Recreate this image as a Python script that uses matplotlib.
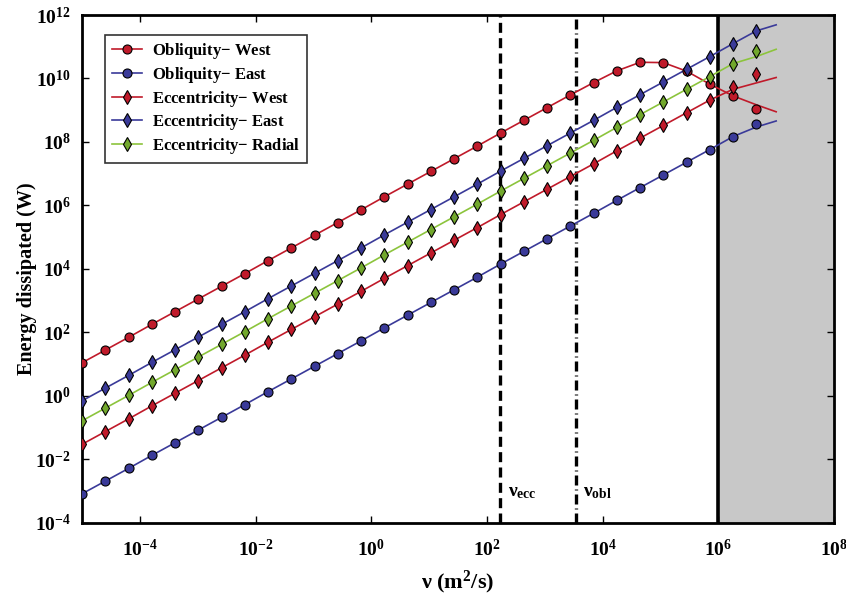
import numpy as np
import matplotlib
matplotlib.use('Agg')
import matplotlib.pyplot as plt
from matplotlib.ticker import FixedLocator, FuncFormatter, NullLocator

plt.rcParams['font.family'] = 'Liberation Serif'
plt.rcParams['font.weight'] = 'bold'
plt.rcParams['mathtext.fontset'] = 'custom'
plt.rcParams['mathtext.rm'] = 'Liberation Serif:bold'
plt.rcParams['mathtext.bf'] = 'Liberation Serif:bold'
plt.rcParams['mathtext.it'] = 'Liberation Serif:bold'

# log10 of viscosity where the points sit
nu_exp = [-5.000, -4.598, -4.196, -3.794, -3.392, -2.990, -2.588, -2.186,
          -1.784, -1.382, -0.980, -0.578, -0.176, 0.226, 0.628, 1.030,
          1.432, 1.834, 2.236, 2.638, 3.040, 3.442, 3.844, 4.246, 4.648,
          5.050, 5.452, 5.854, 6.256, 6.658]
# curves carry on a little past the last point
nu_line_end = 7.0

# log10 of dissipated energy (W) at each point
obl_west = [1.04, 1.44, 1.84, 2.25, 2.65, 3.05, 3.45, 3.85, 4.26, 4.66,
            5.06, 5.46, 5.86, 6.27, 6.67, 7.07, 7.47, 7.87, 8.28, 8.68,
            9.08, 9.48, 9.87, 10.24, 10.51, 10.50, 10.23, 9.82, 9.45, 9.03]
obl_east = [-3.09, -2.69, -2.29, -1.88, -1.48, -1.08, -0.68, -0.28, 0.13,
            0.53, 0.93, 1.33, 1.73, 2.14, 2.54, 2.94, 3.34, 3.74, 4.15,
            4.55, 4.95, 5.35, 5.75, 6.16, 6.56, 6.96, 7.36, 7.76, 8.17, 8.57]
ecc_west = [-1.53, -1.13, -0.73, -0.32, 0.08, 0.48, 0.88, 1.28, 1.69,
            2.09, 2.49, 2.89, 3.29, 3.70, 4.10, 4.50, 4.90, 5.30, 5.71,
            6.11, 6.51, 6.91, 7.31, 7.72, 8.12, 8.52, 8.92, 9.32, 9.73, 10.13]
ecc_east = [-0.16, 0.24, 0.64, 1.05, 1.45, 1.85, 2.25, 2.65, 3.06, 3.46,
            3.86, 4.26, 4.66, 5.07, 5.47, 5.87, 6.27, 6.67, 7.08, 7.48,
            7.88, 8.28, 8.68, 9.09, 9.49, 9.89, 10.29, 10.69, 11.10, 11.50]
ecc_radial = [-0.79, -0.39, 0.01, 0.42, 0.82, 1.22, 1.62, 2.02, 2.43,
              2.83, 3.23, 3.63, 4.03, 4.44, 4.84, 5.24, 5.64, 6.04, 6.45,
              6.85, 7.25, 7.65, 8.05, 8.46, 8.86, 9.26, 9.66, 10.06, 10.47, 10.87]

# model curves split from the points near the top end: values at the
# last three nodes (nu_exp[27], nu_exp[28], nu_exp[29]) and at nu_line_end
obl_west_tail = [9.82, 9.45, 9.17, 8.95]
obl_east_tail = [7.76, 8.17, 8.47, 8.66]
ecc_west_tail = [9.32, 9.66, 9.86, 10.03]
ecc_east_tail = [10.69, 11.10, 11.50, 11.69]
ecc_radial_tail = [10.06, 10.47, 10.69, 10.92]

nu_ecc = 1.7e2
nu_obl = 3.4e3
nu_limit = 1e6

red = '#c01a2a'
blue = '#3a3a99'
green = '#8cc43c'
green_fill = '#72a82c'

fig = plt.figure(figsize=(8.46, 5.97), dpi=100)
ax = fig.add_axes([82 / 846, 1 - 522.7 / 597, 752 / 846, 507.7 / 597])

ax.axvspan(nu_limit, 1e8, color='#c8c8c8', zorder=0)
ax.axvline(nu_limit, color='black', lw=2.6, zorder=1)
ax.axvline(nu_ecc, color='black', lw=2.4, ls=(0, (3, 1.6)), zorder=1)
ax.axvline(nu_obl, color='black', lw=2.4, ls=(0, (3, 1.2, 0.3, 1.2)), zorder=1)

series = [
    ('Obliquity$-$ West', obl_west, obl_west_tail, red, red, 'o'),
    ('Obliquity$-$ East', obl_east, obl_east_tail, blue, blue, 'o'),
    ('Eccentricity$-$ West', ecc_west, ecc_west_tail, red, red, 'd'),
    ('Eccentricity$-$ East', ecc_east, ecc_east_tail, blue, blue, 'd'),
    ('Eccentricity$-$ Radial', ecc_radial, ecc_radial_tail, green, green_fill, 'd'),
]

x_pts = 10.0 ** np.array(nu_exp)
x_line = 10.0 ** np.array(nu_exp + [nu_line_end])
for label, vals, tail, lc, fc, mk in series:
    y_line = 10.0 ** np.array(vals[:27] + tail)
    ax.plot(x_line, y_line, color=lc, lw=1.2, zorder=2)
    ax.plot(x_pts, 10.0 ** np.array(vals), ls='none', marker=mk,
            ms=6.5 if mk == 'o' else 7.5, mfc=fc, mec='black', mew=0.8,
            zorder=3)
    # legend handle: line with marker
    ax.plot([], [], color=lc, lw=1.2, marker=mk,
            ms=6.5 if mk == 'o' else 7.5, mfc=fc, mec='black', mew=0.8,
            label=label)

ax.set_xscale('log')
ax.set_yscale('log')
ax.set_xlim(1e-5, 1e8)
ax.set_ylim(1e-4, 1e12)

ax.xaxis.set_major_locator(FixedLocator([1e-4, 1e-2, 1e0, 1e2, 1e4, 1e6, 1e8]))
ax.yaxis.set_major_locator(FixedLocator([10.0 ** k for k in range(-4, 13, 2)]))
ax.xaxis.set_minor_locator(NullLocator())
ax.yaxis.set_minor_locator(NullLocator())
fmt = FuncFormatter(lambda v, p: r'$\mathbf{10^{%d}}$' % round(np.log10(v)))
ax.xaxis.set_major_formatter(fmt)
ax.yaxis.set_major_formatter(fmt)
ax.tick_params(which='major', direction='in', length=5, width=1,
               top=True, right=True, labelsize=14, pad=8)
ax.tick_params(axis='x', pad=12)
for s in ax.spines.values():
    s.set_linewidth(2)

ax.text(2.3e2, 10 ** -3.05, r'$\nu_{\mathrm{ecc}}$', fontsize=14, va='center')
ax.text(4.6e3, 10 ** -3.05, r'$\nu_{\mathrm{obl}}$', fontsize=14, va='center')

ax.set_xlabel(r'$\nu$ (m$^2$/s)', fontsize=16, fontweight='bold', labelpad=6)
ax.set_ylabel('Energy dissipated (W)', fontsize=14.5, fontweight='bold')
ax.yaxis.set_label_coords(-0.06, 0.48)

leg = ax.legend(loc='upper left', bbox_to_anchor=(0.02, 0.978), fontsize=12,
                frameon=True, fancybox=False, handlelength=1.8,
                borderpad=0.4, labelspacing=0.22, handletextpad=0.6)
leg.get_frame().set_edgecolor('black')
leg.get_frame().set_linewidth(1.2)

fig.savefig('out.png', dpi=100)
